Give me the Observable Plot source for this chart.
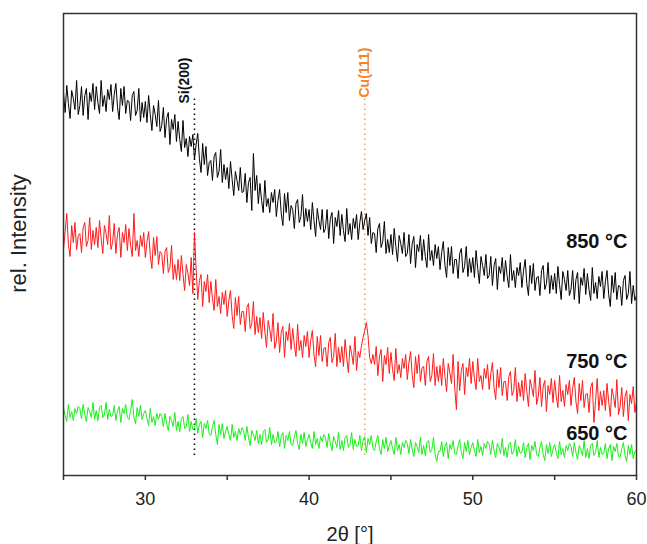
<!DOCTYPE html>
<html><head><meta charset="utf-8">
<script src="https://cdn.jsdelivr.net/npm/d3@7"></script>
<script src="https://cdn.jsdelivr.net/npm/@observablehq/plot@0.6"></script>
<style>body{margin:0;background:#fff;font-family:"Liberation Sans",Arial,sans-serif}</style>
</head><body><div id="chart"></div>
<script>
// 2θ sampling grid of the digitised patterns (degrees)
const angleStart = 25, angleStep = 0.1;

// rel. intensity (arbitrary units), one row per degree
const i850 = [
383,363,390,372,357,385,377,366,395,361,
370,389,360,380,387,356,383,374,392,366,
389,373,362,395,369,380,364,386,376,391,
364,381,392,368,356,387,370,389,362,375,
374,355,380,384,360,365,387,354,373,358,
374,353,380,361,345,370,361,349,375,344,
350,368,338,357,363,331,356,346,361,334,
354,336,324,355,328,337,319,339,329,341,
316,331,342,317,303,332,311,329,300,313,
315,295,319,323,298,304,326,293,311,296,
308,287,314,296,280,304,295,285,308,283,
284,302,273,293,298,265,322,285,300,272,
292,275,263,295,269,277,263,283,273,286,
259,275,286,262,250,282,263,283,255,270,
266,247,272,276,253,259,281,249,267,254,
266,246,273,255,239,267,255,246,266,243,
247,266,237,257,263,232,258,249,265,240,
261,245,234,267,241,252,236,257,247,261,
236,253,264,246,255,262,240,258,232,243,
242,223,247,252,228,234,254,222,236,223,
241,221,247,229,214,240,232,222,243,219,
222,241,212,232,239,208,231,224,240,215,
236,219,208,241,215,225,210,231,217,229,
206,223,234,210,198,228,210,229,202,216,
216,197,222,227,203,209,229,199,217,203,
218,198,225,207,192,219,210,200,221,197,
200,219,190,210,217,186,209,202,218,194,
215,199,188,221,195,205,188,208,200,213,
188,205,216,192,180,210,192,212,185,198,
199,180,205,210,186,192,213,182,200,186,
202,182,209,191,176,204,196,185,205,180,
186,205,176,196,203,172,198,190,207,181,
202,186,175,208,182,193,177,199,189,204,
177,194,205,181,169,200,183,203,176,190,
189,170,195,200,176,182,204,172,190,175,
180];
const i750 = [
227,244,262,231,219,250,233,253,226,240,
242,223,248,253,229,235,258,226,245,231,
248,228,255,237,222,250,242,231,260,226,
233,252,222,242,248,218,243,233,251,225,
247,230,219,262,225,235,219,240,229,243,
218,234,244,220,207,238,220,239,211,224,
222,202,224,228,203,208,230,196,211,196,
216,195,220,201,185,211,202,190,218,182,
243,207,176,195,201,169,194,184,201,173,
194,177,165,196,169,179,162,183,171,185,
159,175,185,160,147,178,160,179,151,164,
164,144,168,172,147,152,174,141,159,143,
158,137,163,144,128,155,146,134,162,127,
134,153,123,143,149,118,144,135,152,126,
147,130,119,151,125,135,118,140,129,144,
118,135,145,121,109,139,120,140,114,127,
128,109,133,138,113,119,142,109,128,113,
129,109,136,118,103,130,122,111,139,105,
124,118,130,138,145,153,140,118,112,121,
111,129,100,119,126,94,120,111,128,102,
123,106,95,127,102,111,98,117,107,121,
96,113,124,100,88,119,102,121,94,108,
109,90,114,119,94,100,122,90,109,94,
110,90,117,99,84,112,103,92,121,87,
66,114,85,105,112,81,108,99,117,92,
114,97,86,117,94,100,86,107,97,111,
86,102,113,88,76,106,88,108,80,94,
94,75,99,104,80,85,108,74,93,79,
95,75,102,84,69,96,88,79,105,71,
79,98,69,89,95,64,90,81,97,73,
95,79,68,100,74,85,69,91,81,95,
70,87,98,74,62,92,75,95,68,81,
82,63,88,93,53,75,97,65,84,70,
85,65,92,74,59,87,79,68,96,61,
69,88,59,79,85,55,81,72,89,63,
74];
const i650 = [
68,60,54,71,58,64,55,67,62,69,
67,57,71,61,54,68,64,58,73,56,
65,55,68,70,58,61,73,56,66,59,
60,70,55,65,69,53,67,62,71,58,
56,65,76,58,52,68,59,70,56,62,
65,57,50,67,53,59,50,62,56,62,
59,49,62,52,45,59,55,49,63,45,
54,44,57,59,47,49,61,44,54,46,
47,57,42,51,54,38,52,47,55,42,
40,49,55,41,31,51,41,52,37,44,
49,41,35,51,38,44,35,47,41,48,
45,35,49,38,30,45,41,35,45,32,
41,31,44,46,33,36,48,31,41,33,
34,44,29,39,43,27,40,35,44,31,
30,39,45,32,26,41,32,43,29,36,
41,33,27,44,31,37,27,39,34,41,
38,28,42,32,25,39,34,28,43,26,
35,25,38,40,28,31,43,26,36,29,
30,40,25,35,39,23,37,31,40,27,
25,34,40,27,21,36,27,38,24,30,
35,27,21,38,25,31,21,33,28,35,
32,22,36,26,19,33,29,23,38,21,
30,20,33,35,23,26,38,21,14,24,
24,34,19,29,33,17,31,26,35,22,
21,30,36,23,17,33,24,35,21,28,
33,25,19,36,23,29,20,32,27,34,
31,21,35,25,18,32,28,22,37,20,
28,18,31,33,21,24,36,19,29,22,
23,33,18,28,32,16,30,25,34,21,
19,28,34,21,15,31,22,33,19,26,
31,23,17,34,21,27,18,30,25,32,
29,19,33,23,16,30,26,20,35,18,
27,17,30,32,20,23,35,18,28,21,
22,32,17,27,31,15,29,24,32,19,
18,27,33,20,14,30,21,31,17,24,
25];

const seriesNames = ["850 °C", "750 °C", "650 °C"];
const seriesValues = [i850, i750, i650];
const seriesColors = ["#000000", "#ff1a1a", "#1aee1a"];
const seriesLabelY = [234, 114, 42];

const peakAngles = [33.0, 43.4];
const peakNames = ["Si(200)", "Cu(111)"];
const peakLineColors = ["#111111", "#f3a262"];
const peakTextColors = ["#111111", "#f0842a"];
const peakTop = [377, 377];
const peakBottom = [20, 20];
const peakLabelY = [372, 378];
const peakLabelShift = [-10, 0];

const xMajorTicks = [30, 40, 50, 60];
const xMinorTicks = [25, 35, 45, 55];

const series = seriesNames.map((name, s) => ({
  name, color: seriesColors[s], labelY: seriesLabelY[s],
  rows: seriesValues[s].map((v, i) => ({angle: +(angleStart + angleStep * i).toFixed(1), intensity: v}))
}));
const peaks = peakAngles.map((a, k) => ({angle: a, name: peakNames[k], top: peakTop[k], bottom: peakBottom[k], labelY: peakLabelY[k]}));

const font = "Liberation Sans, Arial, sans-serif";
const chart = Plot.plot({
  width: 647, height: 544,
  marginLeft: 63, marginRight: 11, marginTop: 13, marginBottom: 69,
  style: {fontFamily: font, color: "#222", background: "white", overflow: "visible"},
  x: {domain: [25, 60], label: null},
  y: {domain: [0, 462], axis: null},
  marks: [
    ...peaks.map((p, k) => Plot.ruleX([p], {x: "angle", y1: "bottom", y2: "top", stroke: peakLineColors[k], strokeWidth: 1.6, strokeDasharray: "1.4,3.6"})),
    ...series.map(s => Plot.line(s.rows, {x: "angle", y: "intensity", stroke: s.color, strokeWidth: 1})),
    ...peaks.map((p, k) => Plot.text([p], {x: "angle", y: "labelY", text: "name", rotate: -90, textAnchor: "start", lineAnchor: "middle", dx: peakLabelShift[k], fill: peakTextColors[k], fontSize: 14, fontWeight: "bold"})),
    Plot.text(series, {y: "labelY", text: "name", frameAnchor: "right", textAnchor: "end", lineAnchor: "middle", dx: -9, fontSize: 20, fontWeight: "bold", fill: "#111"}),
    Plot.frame({stroke: "#333", strokeWidth: 1.5}),
    Plot.axisX(xMajorTicks, {tickSize: 5, tickPadding: 12, fontSize: 18, label: null, stroke: "#333", strokeWidth: 1.5}),
    Plot.axisX(xMinorTicks, {tickSize: 5, tickFormat: () => "", label: null, stroke: "#333", strokeWidth: 1.5}),
    Plot.text(["rel. Intensity"], {frameAnchor: "left", rotate: -90, dx: -45, dy: -11, fontSize: 22, textAnchor: "middle", lineAnchor: "middle", fill: "#222"}),
    Plot.text(["2θ [°]"], {frameAnchor: "bottom", dy: 59, fontSize: 20, textAnchor: "middle", lineAnchor: "middle", fill: "#222"})
  ]
});
document.getElementById("chart").appendChild(chart);
</script>
</body></html>
